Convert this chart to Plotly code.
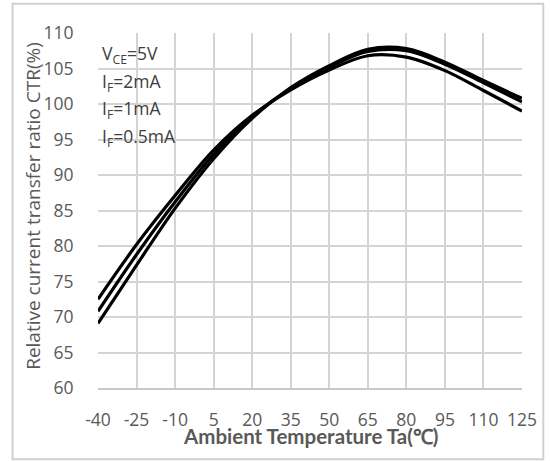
import plotly.graph_objects as go

temps = [-40, -25, -10, 5, 20, 35, 50, 65, 80, 95, 110, 125]
ctr_a = [72.5, 80.2, 87.1, 93.5, 98.4, 102.0, 104.8, 106.8, 106.6, 104.7, 101.9, 99.0]
ctr_b = [70.8, 78.8, 86.2, 92.9, 98.2, 102.2, 105.2, 107.4, 107.5, 105.6, 103.0, 100.3]
ctr_c = [69.1, 77.3, 85.3, 92.3, 98.0, 102.3, 105.4, 107.7, 107.8, 105.9, 103.3, 100.8]
series_names = ["I_F=2mA", "I_F=1mA", "I_F=0.5mA"]
x_ticks = [-40, -25, -10, 5, 20, 35, 50, 65, 80, 95, 110, 125]
y_ticks = [60, 65, 70, 75, 80, 85, 90, 95, 100, 105, 110]

fig = go.Figure()
for name, vals in zip(series_names, [ctr_a, ctr_b, ctr_c]):
    fig.add_trace(go.Scatter(x=temps, y=vals, mode="lines", name=name,
                             line=dict(color="black", width=3.2, shape="spline", smoothing=1.0)))

L, R, T, B = 97.5, 28.3, 32.7, 73.3
W, H = 550, 461
pw = W - L - R
ph = H - T - B

def px(x):
    return (x - L) / pw

def py(y):
    return (H - B - y) / ph

tick_font = dict(family="Open Sans, sans-serif", size=17.5, color="#595959")
fig.update_layout(
    width=W, height=H, autosize=False,
    margin=dict(l=L, r=R, t=T, b=B, pad=0),
    plot_bgcolor="white", paper_bgcolor="white",
    showlegend=False,
    xaxis=dict(range=[-40, 125], tickvals=x_ticks, ticktext=[str(v) for v in x_ticks],
               showgrid=True, gridcolor="#d4d4d4", gridwidth=1.5, zeroline=False,
               showline=True, linecolor="#c8c8c8", linewidth=1.5, mirror=False,
               tickfont=tick_font, ticks="outside", ticklen=15, tickcolor="rgba(0,0,0,0)",
               fixedrange=True),
    yaxis=dict(range=[60, 110], tickvals=y_ticks,
               showgrid=True, gridcolor="#d4d4d4", gridwidth=1.5, zeroline=False,
               showline=False,
               tickfont=tick_font, ticks="outside", ticklen=20, tickcolor="rgba(0,0,0,0)",
               fixedrange=True),
)

# outer border
fig.add_shape(type="rect", xref="paper", yref="paper",
              x0=px(12), x1=px(543), y0=py(459), y1=py(3.5),
              line=dict(color="#d0d0d0", width=2), fillcolor="rgba(0,0,0,0)", layer="above")

# axis titles
fig.add_annotation(text="<b>Ambient Temperature Ta(℃)</b>", xref="paper", yref="paper",
                   x=px(310), y=py(436), showarrow=False, xanchor="center", yanchor="middle",
                   font=dict(family="Lato, sans-serif", size=20.5, color="#595959"))
fig.add_annotation(text="Relative current transfer ratio CTR(%)", xref="paper", yref="paper",
                   x=px(33), y=py(206), showarrow=False, xanchor="center", yanchor="middle",
                   textangle=-90,
                   font=dict(family="Open Sans, sans-serif", size=19, color="#595959"))

# condition labels
cond_texts = ["V<sub>CE</sub>=5V", "I<sub>F</sub>=2mA", "I<sub>F</sub>=1mA", "I<sub>F</sub>=0.5mA"]
cond_y = [54, 82, 109, 137]
for t, yy in zip(cond_texts, cond_y):
    fig.add_annotation(text=t, xref="paper", yref="paper", x=px(100), y=py(yy),
                       showarrow=False, xanchor="left", yanchor="middle",
                       font=dict(family="Open Sans, sans-serif", size=17.5, color="#404040"))

fig.write_html("out.html", config={"displayModeBar": False},
               post_script="document.body.style.margin='0';document.body.style.overflow='hidden';")
